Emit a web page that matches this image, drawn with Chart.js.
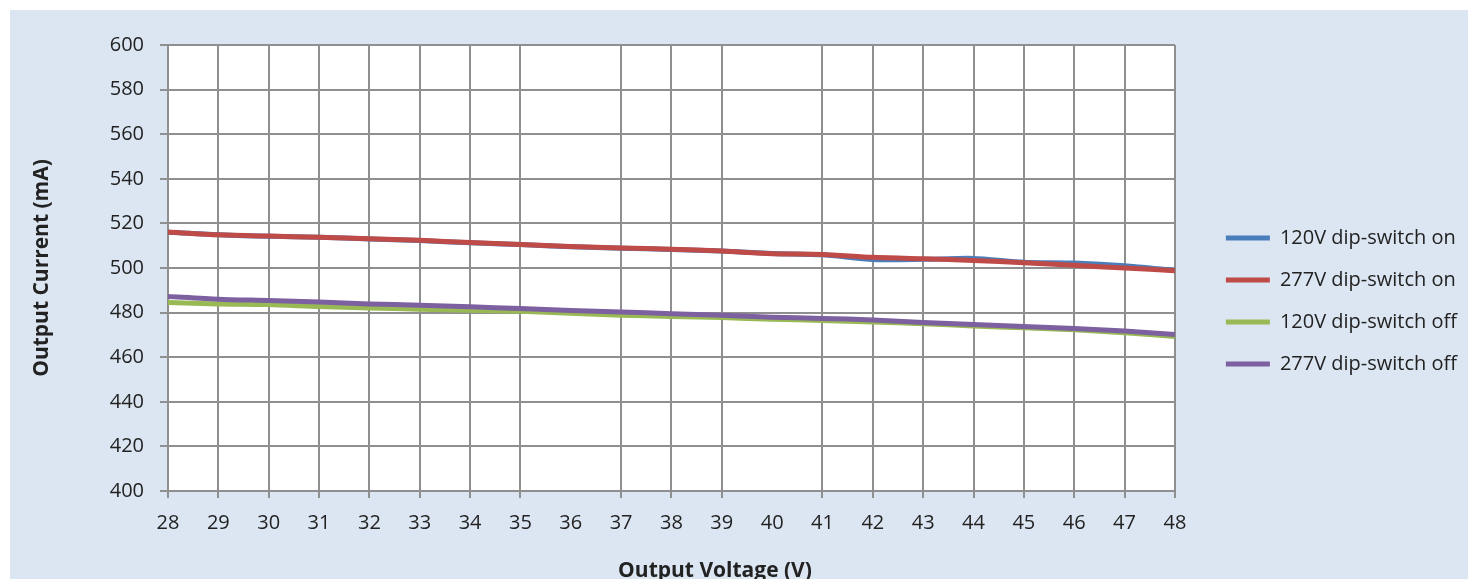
<!DOCTYPE html>
<html>
<head>
<meta charset="utf-8">
<script src="https://cdn.jsdelivr.net/npm/chart.js@4.4.1/dist/chart.umd.min.js"></script>
<style>
  html, body { margin: 0; padding: 0; background: #fff; overflow: hidden; }
  #panel { position: absolute; left: 10px; top: 10px; width: 1458px; height: 569px; background: #dce6f2; overflow: hidden; }
  #panel canvas { display: block; }
</style>
</head>
<body>
<div id="panel"><canvas id="grafica" width="1458" height="569"></canvas></div>
<script>
// Datos (mA por cada voltio de salida)
const voltajes = [28, 29, 30, 31, 32, 33, 34, 35, 36, 37, 38, 39, 40, 41, 42, 43, 44, 45, 46, 47, 48];
const on120  = [516.0, 514.9, 514.2, 513.8, 513.0, 512.3, 511.3, 510.5, 509.5, 508.9, 508.3, 507.6, 506.5, 505.9, 503.8, 503.9, 504.3, 502.6, 502.2, 501.0, 498.9];
const on277  = [516.1, 514.9, 514.3, 513.8, 513.1, 512.4, 511.4, 510.5, 509.6, 509.0, 508.4, 507.6, 506.4, 506.1, 504.8, 504.2, 503.4, 502.4, 501.2, 500.0, 498.8];
const off120 = [484.5, 483.9, 483.6, 482.7, 482.1, 481.5, 481.1, 480.6, 479.7, 478.8, 478.3, 477.8, 477.0, 476.5, 475.8, 475.0, 474.0, 473.2, 472.3, 471.0, 469.3];
const off277 = [487.2, 486.0, 485.4, 484.7, 483.9, 483.3, 482.6, 481.8, 480.9, 480.3, 479.5, 478.8, 477.9, 477.4, 476.7, 475.6, 474.7, 473.8, 472.9, 471.7, 470.2];

const nombres = ['120V dip-switch on', '277V dip-switch on', '120V dip-switch off', '277V dip-switch off'];
const colores = ['#4a7ebb', '#be4b48', '#98b954', '#7d60a0'];
const sinRejilla = [36, 40]; // lineas verticales que no aparecen en la imagen original

const gris = '#8f8f8f';
const texto = '#222';
const fuente = '"Open Sans", sans-serif';

const puntos = (serie) => voltajes.map((v, i) => ({ x: v, y: serie[i] }));

function serie(indice, valores) {
    return {
        label: nombres[indice],
        data: puntos(valores),
        borderColor: colores[indice],
        backgroundColor: colores[indice],
        borderWidth: 5,
        pointRadius: 0,
        tension: 0.25,
        fill: false
    };
}

// Fondo blanco solo en el area de trazado
const fondoBlanco = {
    id: 'fondoBlanco',
    beforeDraw(chart) {
        const { ctx, chartArea: a } = chart;
        ctx.save();
        ctx.fillStyle = '#fff';
        ctx.fillRect(a.left, a.top, a.right - a.left, a.bottom - a.top);
        ctx.restore();
    }
};

// Titulo del eje X (en el original no esta centrado sobre el eje)
const tituloX = {
    id: 'tituloX',
    afterDraw(chart) {
        const ctx = chart.ctx;
        ctx.save();
        ctx.font = 'bold 21px ' + fuente;
        ctx.fillStyle = texto;
        ctx.textAlign = 'center';
        ctx.textBaseline = 'middle';
        ctx.fillText('Output Voltage (V)', 705, 561);
        ctx.restore();
    }
};

new Chart(document.getElementById('grafica'), {
    type: 'line',
    data: {
        // orden inverso: el primer dataset se dibuja encima
        datasets: [serie(3, off277), serie(2, off120), serie(1, on277), serie(0, on120)]
    },
    options: {
        responsive: false,
        animation: false,
        layout: { padding: { left: 0, top: 35, right: 1, bottom: 22 } },
        scales: {
            x: {
                type: 'linear',
                min: 28,
                max: 48,
                ticks: { stepSize: 1, color: texto, font: { family: fuente, size: 20 }, padding: 13, maxRotation: 0 },
                grid: {
                    color: (c) => (c.tick && sinRejilla.includes(c.tick.value)) ? 'rgba(0,0,0,0)' : gris,
                    lineWidth: 2,
                    tickLength: 7
                },
                border: { color: gris, width: 2 },
                afterFit: (s) => { s.height = 66; }
            },
            y: {
                min: 400,
                max: 600,
                ticks: { stepSize: 20, color: texto, font: { family: fuente, size: 20 }, padding: 16 },
                grid: { color: gris, lineWidth: 2, tickLength: 8 },
                border: { color: gris, width: 2 },
                title: {
                    display: true,
                    text: 'Output Current (mA)',
                    color: texto,
                    font: { family: fuente, size: 21, weight: 'bold' },
                    padding: { top: 19, bottom: 0 }
                },
                afterFit: (s) => { s.width = 158; }
            },
            hueco: {
                // eje vacio para separar la leyenda del area de trazado
                position: 'right',
                grid: { display: false },
                ticks: { display: false },
                border: { display: false },
                afterFit: (s) => { s.width = 29; }
            }
        },
        plugins: {
            legend: {
                position: 'right',
                reverse: true,
                maxWidth: 400,
                labels: {
                    usePointStyle: true,
                    pointStyle: 'line',
                    pointStyleWidth: 44,
                    color: texto,
                    font: { family: fuente, size: 20 },
                    padding: 22
                }
            },
            tooltip: { enabled: true }
        }
    },
    plugins: [fondoBlanco, tituloX]
});
</script>
</body>
</html>
